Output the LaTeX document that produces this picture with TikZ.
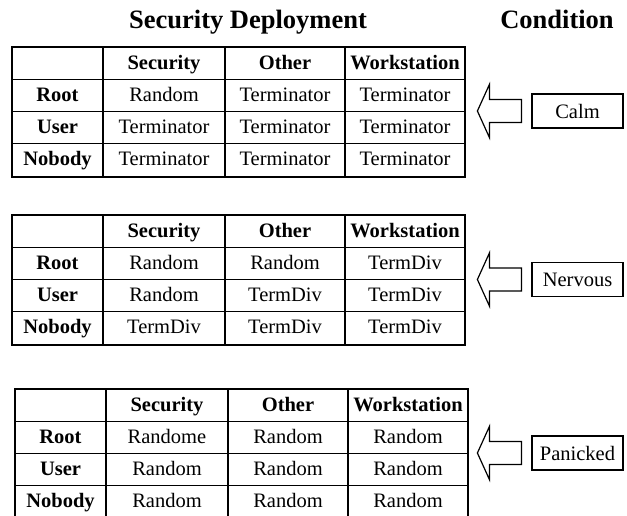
\documentclass[tikz,border=0pt]{standalone}
\usepackage{fontspec}
\setmainfont{Liberation Serif}
\newcommand\drawdeploytable[4]{%
  \begin{scope}[shift={(#2,#3)}]
    \draw[outerline] (0,0) rectangle (453,130);
    \foreach \cx in {91,213,333} \draw[outerline] (\cx,0) -- (\cx,130);
    \foreach \ry in {32,64,96} \draw[innerline] (0,\ry) -- (453,\ry);
    \node[hcell] (#1h1) at (152,22.8) {Security};
    \node[hcell] (#1h2) at (273,22.8) {Other};
    \node[hcell] (#1h3) at (393,22.8) {Workstation};
    \foreach [count=\i] \r/\a/\b/\c in {#4} {
      \node[hcell] (#1r\i c0) at (45.5,32*\i+22.8) {\r};
      \node[cell] (#1r\i c1) at (152,32*\i+22.8) {\a};
      \node[cell] (#1r\i c2) at (273,32*\i+22.8) {\b};
      \node[cell] (#1r\i c3) at (393,32*\i+22.8) {\c};
    }
  \end{scope}}
\begin{document}
\begin{tikzpicture}[x=1pt,y=-1pt,
  cell/.style={font=\fontsize{20.5}{22}\selectfont, anchor=base, inner sep=0pt},
  hcell/.style={cell, font=\fontsize{20.5}{22}\selectfont\bfseries},
  titletext/.style={font=\fontsize{26.5}{28}\selectfont\bfseries, anchor=base, inner sep=0pt},
  outerline/.style={line width=1.6pt},
  innerline/.style={line width=0.9pt},
  condbox/.style={draw, line width=1.2pt, minimum width=91pt, minimum height=34pt, inner sep=0pt, font=\fontsize{20.5}{22}\selectfont},
  bigarrow/.style={draw, line width=1.2pt, line join=miter}]
\useasboundingbox (0,0) rectangle (627,516);
\node[titletext] (title) at (248,29) {Security Deployment};
\node[titletext] (cond) at (557,29) {Condition};

\drawdeploytable{ta}{12}{47}{Root/Random/Terminator/Terminator,User/Terminator/Terminator/Terminator,Nobody/Terminator/Terminator/Terminator}
\drawdeploytable{tb}{12}{215}{Root/Random/Random/TermDiv,User/Random/TermDiv/TermDiv,Nobody/TermDiv/TermDiv/TermDiv}
\drawdeploytable{tc}{15}{389}{Root/Randome/Random/Random,User/Random/Random/Random,Nobody/Random/Random/Random}

\node[condbox] (calm) at (577.5,111) {Calm};
\node[condbox] (nervous) at (577.5,279.5) {Nervous};
\node[condbox] (panicked) at (577.5,453) {Panicked};

\foreach \b in {calm,nervous,panicked} {
  \begin{scope}[shift={(\b.west)}]
    \draw[bigarrow] (-54,0) -- (-42,-26.5) -- (-42,-11.5) -- (-10,-11.5) -- (-10,11.5) -- (-42,11.5) -- (-42,26.5) -- cycle;
  \end{scope}
}
\end{tikzpicture}
\end{document}
